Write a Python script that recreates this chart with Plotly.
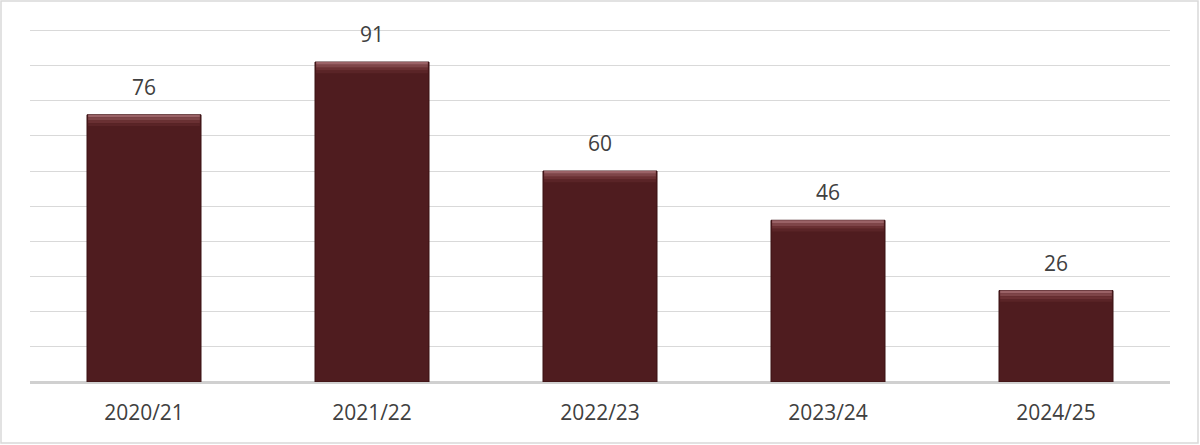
import plotly.graph_objects as go

categories = ["2020/21", "2021/22", "2022/23", "2023/24", "2024/25"]
values = [76, 91, 60, 46, 26]

W, H = 1200, 445
ML, MR, MT, MB = 30, 30, 29, 63

bar_color = "#4F1C1F"
edge_color = "#3A1013"
text_color = "#404040"
font_family = "Open Sans, Liberation Sans, Arial, sans-serif"

fig = go.Figure()
fig.add_trace(go.Bar(
    x=categories, y=values,
    marker=dict(color=bar_color, line=dict(color=edge_color, width=1)),
    hoverinfo="skip", showlegend=False,
))
# bevel highlight bands at the top of each bar
bevel = [("#9A6266", 0.8), ("#7E4548", 0.8), ("#6A3033", 0.8), ("#5A2427", 0.8)]
off = 0.0
for col, h in bevel:
    fig.add_trace(go.Bar(
        x=categories, y=[h] * len(values),
        base=[v - off - h for v in values],
        marker=dict(color=col, line=dict(width=0)),
        width=0.49,
        hoverinfo="skip", showlegend=False,
    ))
    off += h

for c, v in zip(categories, values):
    fig.add_annotation(x=c, y=v, text=str(v), showarrow=False,
                       yanchor="bottom", yshift=12,
                       font=dict(size=21, color=text_color, family=font_family))

fig.update_layout(
    width=W, height=H,
    margin=dict(l=ML, r=MR, t=MT, b=MB),
    paper_bgcolor="white", plot_bgcolor="white",
    barmode="overlay", bargap=0.5,
    font=dict(family=font_family, color=text_color, size=21),
    xaxis=dict(showgrid=False, showline=False, ticks="", tickfont=dict(size=21, color=text_color),
               ticklabelstandoff=16),
    yaxis=dict(range=[0, 100.4], tickvals=list(range(0, 101, 10)), showticklabels=False,
               showgrid=True, gridcolor="#D9D9D9", gridwidth=1.3, zeroline=True,
               zerolinecolor="#D0D0D0", zerolinewidth=2.5, ticks=""),
)
pw, ph = W - ML - MR, H - MT - MB
fig.add_shape(type="rect", xref="paper", yref="paper",
              x0=-(ML - 1) / pw, x1=1 + (MR - 2) / pw,
              y0=-(MB - 2) / ph, y1=1 + (MT - 1) / ph,
              line=dict(color="#D9D9D9", width=1.5), fillcolor="rgba(0,0,0,0)", layer="below")

fig.write_html("out.html", config={"displayModeBar": False},
               post_script="document.body.style.margin='0';document.body.style.overflow='hidden';")
